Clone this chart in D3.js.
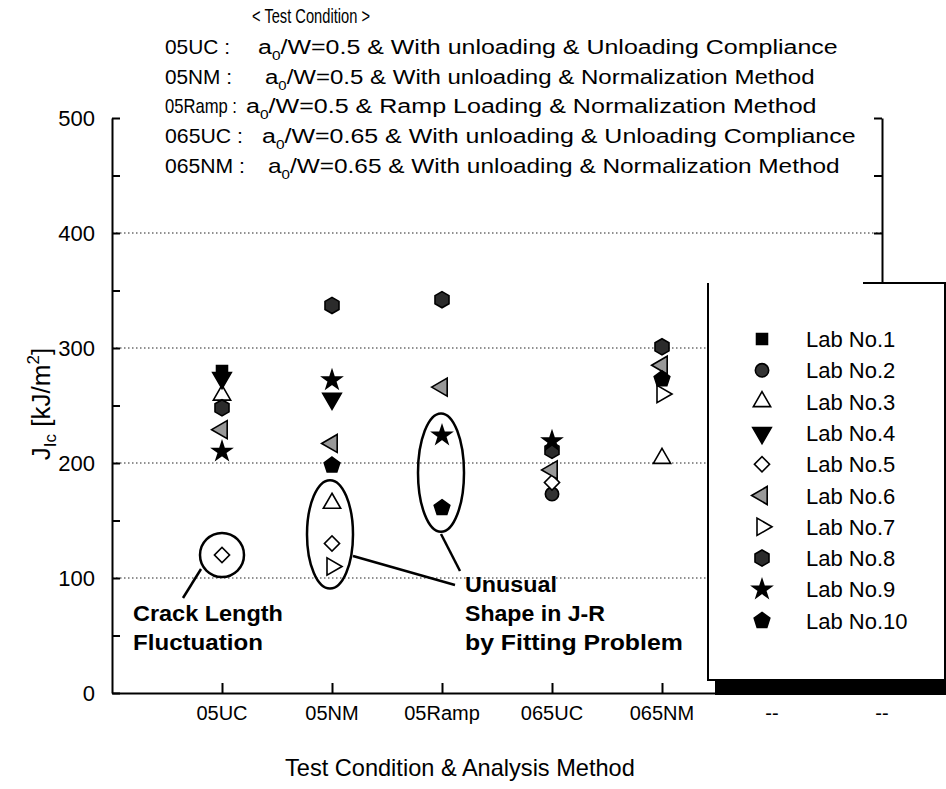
<!DOCTYPE html>
<html>
<head>
<meta charset="utf-8">
<script src="https://cdn.jsdelivr.net/npm/d3@7"></script>
<style>
  body { margin: 0; background: #fff; }
  svg { display: block; }
  text { font-family: "Liberation Sans", Arial, sans-serif; fill: #000; }
</style>
</head>
<body>
<svg id="chart" width="946" height="789"></svg>
<script>
// ---- data ----
const categories = ["05UC", "05NM", "05Ramp", "065UC", "065NM", "--", "--"];
const yTicks = [0, 100, 200, 300, 400, 500];
const yMinorTicks = [50, 150, 250, 350, 450];
const labNames = ["Lab No.1", "Lab No.2", "Lab No.3", "Lab No.4", "Lab No.5",
                  "Lab No.6", "Lab No.7", "Lab No.8", "Lab No.9", "Lab No.10"];

// J_Ic values per lab, one entry per test condition (05UC, 05NM, 05Ramp, 065UC, 065NM)
const lab1  = [280, null, null, null, null];
const lab2  = [null, null, null, 173, null];
const lab3  = [259, 165, null, null, 204];
const lab4  = [274, 256, null, null, null];
const lab5  = [120, 130, null, 183, null];
const lab6  = [229, 217, 266, 194, 285];
const lab7  = [null, 110, null, null, 260];
const lab8  = [248, 337, 342, 211, 301];
const lab9  = [210, 272, 224, 219, null];
const lab10 = [null, 198, 161, null, 273];
const labValues = [lab1, lab2, lab3, lab4, lab5, lab6, lab7, lab8, lab9, lab10];

const conditionCodes = ["05UC :", "05NM :", "05Ramp :", "065UC :", "065NM :"];
const conditionRatios = ["0.5", "0.5", "0.5", "0.65", "0.65"];
const conditionLoading = ["With unloading", "With unloading", "Ramp Loading", "With unloading", "With unloading"];
const conditionMethods = ["Unloading Compliance", "Normalization Method", "Normalization Method",
                          "Unloading Compliance", "Normalization Method"];

// ---- marker shapes ----
function polygonSymbol(n, rot) {
  return {
    draw(ctx, size) {
      const r = Math.sqrt(size / (0.5 * n * Math.sin(2 * Math.PI / n)));
      for (let i = 0; i < n; i++) {
        const a = rot + i * 2 * Math.PI / n;
        const px = r * Math.cos(a), py = r * Math.sin(a);
        if (i === 0) ctx.moveTo(px, py); else ctx.lineTo(px, py);
      }
      ctx.closePath();
    }
  };
}
const symbolHexagon = polygonSymbol(6, -Math.PI / 2);
const symbolPentagon = polygonSymbol(5, -Math.PI / 2);

// style of each lab's marker: shape, rotation, size, fill
const markerStyles = [
  { type: d3.symbolSquare,   rotate: 0,   size: 120, fill: "#000" },
  { type: d3.symbolCircle,   rotate: 0,   size: 140, fill: "#333" },
  { type: d3.symbolTriangle, rotate: 0,   size: 130, fill: "#fff" },
  { type: d3.symbolTriangle, rotate: 180, size: 150, fill: "#000" },
  { type: d3.symbolSquare,   rotate: 45,  size: 115, fill: "#fff" },
  { type: d3.symbolTriangle, rotate: -90, size: 140, fill: "#999" },
  { type: d3.symbolTriangle, rotate: 90,  size: 130, fill: "#fff" },
  { type: symbolHexagon,     rotate: 0,   size: 170, fill: "#2b2b2b" },
  { type: d3.symbolStar,     rotate: 0,   size: 110, fill: "#000" },
  { type: symbolPentagon,    rotate: 0,   size: 160, fill: "#000" }
];

// squeeze a text horizontally so that it spans the given width, starting at (x0, y0)
function fitText(sel, x0, y0, width, anchor) {
  const w = sel.node().getComputedTextLength();
  const sx = width / w;
  const tx = anchor === "middle" ? x0 - width / 2 : x0;
  sel.attr("x", 0).attr("y", 0).attr("text-anchor", "start")
    .attr("transform", `translate(${tx},${y0}) scale(${sx},1)`);
}

// ---- layout ----
const svg = d3.select("#chart");
const x = d3.scaleLinear().domain([0, categories.length]).range([112, 882]);
const y = d3.scaleLinear().domain([0, 500]).range([693, 118]);

// dotted grid lines
svg.append("g").selectAll("line")
  .data(yTicks.filter(v => v > 0 && v < 500))
  .join("line")
  .attr("x1", x(0)).attr("x2", x(categories.length))
  .attr("y1", d => y(d)).attr("y2", d => y(d))
  .attr("stroke", "#222").attr("stroke-width", 1)
  .attr("stroke-dasharray", "1.5,2.5");

// left axis (inward ticks)
const leftAxis = svg.append("g").attr("transform", `translate(${x(0)},0)`);
leftAxis.call(d3.axisRight(y).tickValues(yTicks.concat(yMinorTicks)).tickSize(8).tickSizeOuter(0).tickFormat(""));
leftAxis.selectAll("path, line").attr("stroke", "#000").attr("stroke-width", 2);

svg.append("g").selectAll("text")
  .data(yTicks).join("text")
  .attr("x", 95).attr("y", d => y(d) + 8)
  .attr("text-anchor", "end")
  .style("font-size", "22px")
  .text(d => d);

// right axis
const rightAxis = svg.append("g").attr("transform", `translate(${x(categories.length)},0)`);
rightAxis.call(d3.axisLeft(y).tickValues(yTicks.concat(yMinorTicks)).tickSize(8).tickSizeOuter(0).tickFormat(""));
rightAxis.selectAll("path, line").attr("stroke", "#000").attr("stroke-width", 2);

// bottom axis
const bottomAxis = svg.append("g").attr("transform", `translate(0,${y(0)})`);
bottomAxis.call(d3.axisTop(x).tickValues(d3.range(1, categories.length + 1)).tickSize(10).tickSizeOuter(0).tickFormat(""));
bottomAxis.selectAll("path, line").attr("stroke", "#000").attr("stroke-width", 2);

svg.append("g").selectAll("text")
  .data(categories).join("text")
  .attr("x", (d, i) => x(i + 1)).attr("y", y(0) + 27)
  .attr("text-anchor", "middle")
  .style("font-size", "20px")
  .text(d => d);

// axis titles
const xTitle = svg.append("text")
  .style("font-size", "23px")
  .text("Test Condition & Analysis Method");
fitText(xTitle, 460, 776, 350, "middle");

const yTitle = svg.append("text")
  .attr("transform", "translate(50,404) rotate(-90)")
  .attr("text-anchor", "middle")
  .style("font-size", "26px");
yTitle.append("tspan").text("J");
yTitle.append("tspan").attr("dy", 6).style("font-size", "17px").text("Ic");
yTitle.append("tspan").attr("dy", -6).text(" [kJ/m");
yTitle.append("tspan").attr("dy", -11).style("font-size", "17px").text("2");
yTitle.append("tspan").attr("dy", 11).text("]");

// ---- annotations: highlighted points ----
const ann = svg.append("g").attr("fill", "none").attr("stroke", "#000").attr("stroke-width", 2.5);
ann.append("circle").attr("cx", x(1)).attr("cy", y(lab5[0])).attr("r", 22);
const e2top = y(lab3[1]) - 23, e2bot = y(lab7[1]) + 22;
ann.append("ellipse").attr("cx", x(2) - 2).attr("cy", (e2top + e2bot) / 2)
  .attr("rx", 23).attr("ry", (e2bot - e2top) / 2);
const e3top = y(lab9[2]) - 22, e3bot = y(lab10[2]) + 24;
ann.append("ellipse").attr("cx", x(3) - 1).attr("cy", (e3top + e3bot) / 2)
  .attr("rx", 23).attr("ry", (e3bot - e3top) / 2);
ann.append("line").attr("x1", 201).attr("y1", 569).attr("x2", 183).attr("y2", 598);
ann.append("line").attr("x1", 353).attr("y1", 556).attr("x2", 455).attr("y2", 585);
ann.append("line").attr("x1", 441).attr("y1", 534).attr("x2", 460).attr("y2", 571);

const annText = svg.append("g").style("font-weight", "bold").style("font-size", "22px");
[["Crack Length", 133, 621, 150], ["Fluctuation", 133, 650, 130],
 ["Unusual", 465, 592, 92], ["Shape in J-R", 465, 621, 140], ["by Fitting Problem", 465, 650, 218]]
  .forEach(([s, tx, ty, w]) => fitText(annText.append("text").text(s), tx, ty, w, "start"));

// ---- data markers ----
const symbolPath = (st) => d3.symbol().type(st.type).size(st.size)();
labValues.forEach((vals, li) => {
  const st = markerStyles[li];
  svg.append("g").selectAll("path")
    .data(vals.map((v, ci) => ({ v, ci })).filter(d => d.v !== null))
    .join("path")
    .attr("d", symbolPath(st))
    .attr("transform", d => `translate(${x(d.ci + 1)},${y(d.v)}) rotate(${st.rotate})`)
    .attr("fill", st.fill)
    .attr("stroke", "#000")
    .attr("stroke-width", 1.6)
    .attr("stroke-linejoin", "miter");
});

// ---- legend ----
const legend = svg.append("g");
legend.append("rect").attr("x", 715).attr("y", 681).attr("width", 240).attr("height", 14).attr("fill", "#000");
legend.append("rect").attr("x", 708).attr("y", 283).attr("width", 237).attr("height", 397)
  .attr("fill", "#fff").attr("stroke", "none");
legend.append("path")
  .attr("d", "M708,283 V680 H945 V283 H863")
  .attr("fill", "none").attr("stroke", "#000").attr("stroke-width", 2);
const rows = legend.selectAll("g.row").data(labNames).join("g")
  .attr("class", "row")
  .attr("transform", (d, i) => `translate(0,${339 + i * 31.3})`);
rows.append("path")
  .attr("d", (d, i) => symbolPath(markerStyles[i]))
  .attr("transform", (d, i) => `translate(762,0) rotate(${markerStyles[i].rotate})`)
  .attr("fill", (d, i) => markerStyles[i].fill)
  .attr("stroke", "#000").attr("stroke-width", 1.6);
rows.append("text")
  .attr("x", 806).attr("y", 8)
  .style("font-size", "22px")
  .text(d => d);

// ---- test condition header ----
const header = svg.append("g").style("font-size", "21px");
fitText(header.append("text").text("< Test Condition >"), 311, 23, 118, "middle");
const codeEnd = [230, 232, 237, 243, 245];
const descStart = [258, 265, 246, 262, 268];
const descEnd = [838, 815, 817, 856, 840];
conditionCodes.forEach((code, i) => {
  const by = 54 + i * 29.7;
  fitText(header.append("text").text(code), 165, by, codeEnd[i] - 165, "start");
  const t = header.append("text");
  t.append("tspan").text("a");
  t.append("tspan").attr("dy", 6).style("font-size", "13px").text("0");
  t.append("tspan").attr("dy", -6).text(`/W=${conditionRatios[i]} & ${conditionLoading[i]} & ${conditionMethods[i]}`);
  fitText(t, descStart[i], by, descEnd[i] - descStart[i], "start");
});
</script>
</body>
</html>
